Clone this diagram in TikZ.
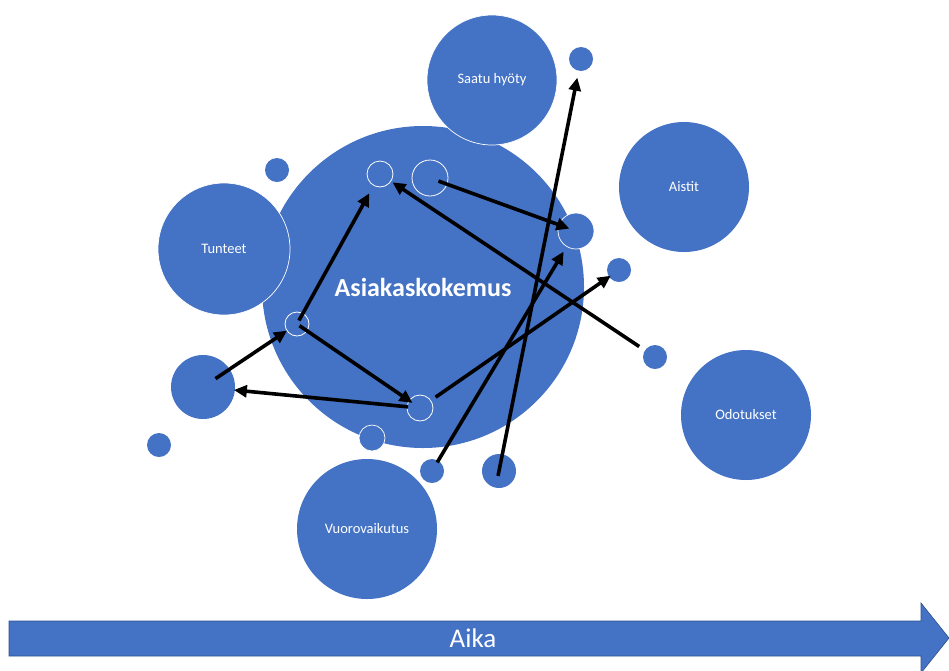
\documentclass[tikz,border=0pt]{standalone}
\usepackage{fontspec}
\setmainfont{Carlito}
\usetikzlibrary{arrows.meta}
\definecolor{bubble}{HTML}{4472C4}
\definecolor{bubbleedge}{HTML}{2F528F}
\begin{document}
\begin{tikzpicture}[x=1pt,y=-1pt,
  bub/.style={circle,fill=bubble,draw=white,line width=0.7pt,inner sep=0pt,
    minimum size=#1,text=white,font=\fontsize{14.5}{17}\selectfont},
  ring/.style={circle,draw=white,line width=0.8pt,inner sep=0pt,minimum size=#1},
  arr/.style={line width=3.6pt,-{Triangle[length=13pt,width=12pt]}}]
\useasboundingbox (0,0) rectangle (949,670);
% main bubble
\node[bub=322pt,draw=none,font=\fontsize{26}{30}\selectfont\bfseries] (core) at (423,287) {Asiakaskokemus};
% theme bubbles
\node[bub=130pt] (hyoty) at (492,80) {Saatu hyöty};
\node[bub=130pt,draw=none] (aistit) at (684,187) {Aistit};
\node[bub=132pt] (tunteet) at (224,249) {Tunteet};
\node[bub=130pt,draw=none] (odot) at (746,415) {Odotukset};
\node[bub=140pt,draw=none] (vuoro) at (367,529) {Vuorovaikutus};
% small bubbles
\node[bub=24pt,draw=none] (sa) at (277,170) {};
\node[bub=24pt,draw=none] (sb) at (581,59) {};
\node[bub=64pt,draw=none] (lc) at (203,387) {};
\node[bub=24pt,draw=none] (sc) at (159,445) {};
\node[bub=24pt,draw=none] (sd) at (655,357) {};
\node[bub=24pt,draw=none] (se) at (619,270) {};
\node[bub=36pt] (rr) at (576,231) {};
\node[bub=24pt,draw=none] (sf) at (432,471) {};
\node[bub=34pt,draw=none] (sg) at (499,471) {};
\node[bub=26pt] (sh) at (372,438) {};
% outlined rings on the main bubble
\node[ring=26pt] (oa) at (380,174) {};
\node[ring=36pt] (ob) at (430,178) {};
\node[ring=24pt] (oc) at (297,324) {};
\node[ring=26pt] (od) at (420,408) {};
% connectors
\draw[arr,shorten <=15pt,shorten >=12pt] (lc.center) -- (oc.center);
\draw[arr,shorten <=4pt,shorten >=22pt] (oc.center) -- (oa.center);
\draw[arr,shorten <=3pt,shorten >=9pt] (oc.center) -- (od.center);
\draw[arr,shorten <=12pt,shorten >=31pt] (od.center) -- (lc.center);
\draw[arr,shorten <=9pt,shorten >=7pt] (ob.center) -- (rr.center);
\draw[arr,shorten <=19pt,shorten >=15pt] (sd.center) -- (oa.center);
\draw[arr,shorten <=19pt,shorten >=10pt] (od.center) -- (se.center);
\draw[arr,shorten <=10pt,shorten >=24pt] (sf.center) -- (rr.center);
\draw[arr,shorten <=-5pt,shorten >=19pt] (sg.center) -- (sb.center);
% time axis
\draw[fill=bubble,draw=bubbleedge,line width=0.6pt]
  (9,621) -- (921,621) -- (921,603) -- (949,638) -- (921,673) -- (921,656) -- (9,656) -- cycle;
\node[text=white,font=\fontsize{27}{31}\selectfont] (aika) at (473,638) {Aika};
\end{tikzpicture}
\end{document}
